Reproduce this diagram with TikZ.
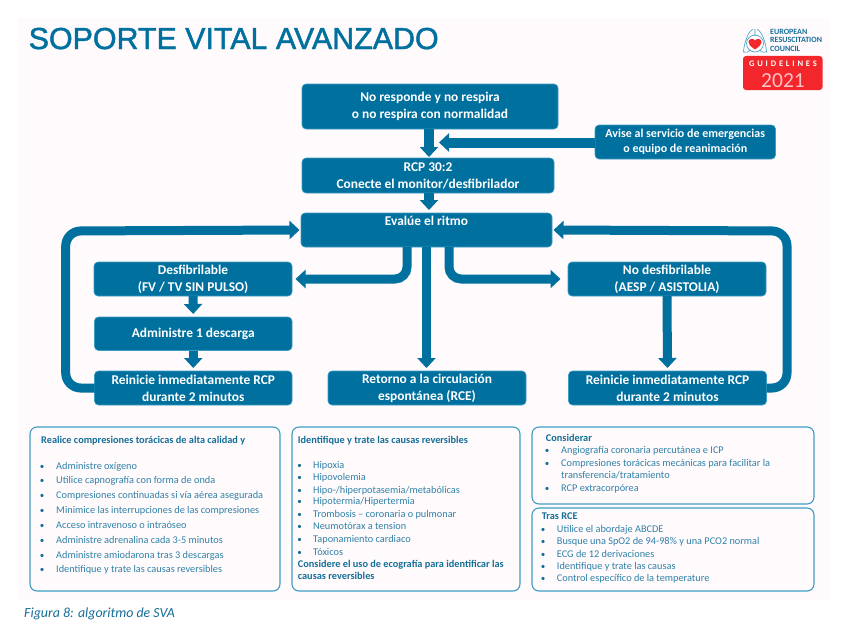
\documentclass[tikz,border=0pt]{standalone}
\usepackage{fontspec}
\usetikzlibrary{arrows.meta}
\setmainfont{Carlito}
\newfontfamily\titlefont[FakeBold=1.5]{Liberation Sans}
\definecolor{ercblue}{HTML}{00709F}
\definecolor{ercedge}{HTML}{3C9DC2}
\definecolor{erctext}{HTML}{2F81A8}
\definecolor{erchead}{HTML}{156E98}
\definecolor{panel}{HTML}{FFFAFC}
\definecolor{ercred}{HTML}{F3262B}
\tikzset{
  x=1pt,y=-1pt,
  flowbox/.style={draw=ercedge,line width=.6pt,fill=ercblue,rounded corners=4pt,text=white,
    font=\fontsize{13.4}{17}\selectfont\bfseries,align=center,inner sep=0pt,outer sep=0pt,anchor=north west},
  smallflow/.style={font=\fontsize{12}{15}\selectfont\bfseries},
  flow/.style={draw=ercblue,line width=9pt,-{Triangle[width=18pt,length=10pt]},shorten >=1.5pt},
  infobox/.style={draw=ercedge,line width=1.1pt,rounded corners=7pt,fill=none},
  ln/.style={anchor=base west,inner sep=0pt,text=erctext,font=\fontsize{10.3}{12}\selectfont},
  hd/.style={anchor=base west,inner sep=0pt,text=erchead,font=\fontsize{10.3}{12}\selectfont\bfseries},
  bul/.style={anchor=base,inner sep=0pt,text=erchead,font=\fontsize{9}{12}\selectfont},
  logotx/.style={anchor=base west,inner sep=0pt,text=erchead,font=\fontsize{8}{8}\selectfont\bfseries},
}
\newcommand\flowbox[6]{\node[flowbox,minimum width=#4pt,minimum height=#5pt] (#1) at (#2,#3) {#6};}
\begin{document}
\begin{tikzpicture}
\useasboundingbox (0,0) rectangle (848,634);
\fill[white] (0,0) rectangle (848,634);
\fill[panel] (18,18) rectangle (829,600);
\node[anchor=base west,inner sep=0pt,text=ercblue,font=\fontsize{30.4}{32}\titlefont] (title) at (28.5,49) {SOPORTE VITAL AVANZADO};

% logo
\fill[ercred,rounded corners=3pt] (743,56) rectangle (822.5,90);
\node[anchor=base,inner sep=0pt,text=white,font=\fontsize{8.5}{9}\selectfont\bfseries] (gl) at (783,66.5) {G\,\,U\,\,I\,\,D\,\,E\,\,L\,\,I\,\,N\,\,E\,\,S};
\node[anchor=base,inner sep=0pt,text=white!72!ercred,font=\fontsize{21.5}{22}\selectfont] (yr) at (783,87) {2021};
\node[logotx] (l1) at (770,34.5) {EUROPEAN};
\node[logotx] (l2) at (770,43) {RESUSCITATION};
\node[logotx] (l3) at (770,51.5) {COUNCIL};
\draw[ercedge,line width=.6pt] (755,29) -- (755,36)
  (753,29.5) .. controls (749,30) and (744,42) .. (743.5,52) .. controls (746,53) and (749,52) .. (751,50)
  (757,29.5) .. controls (761,30) and (766,42) .. (766.5,52) .. controls (764,53) and (761,52) .. (759,50)
  (755,43.5) circle[radius=8.5];
\fill[ercred] (755,49.5) .. controls (750,46) and (748.5,44) .. (748.5,42) .. controls (748.5,38.5) and (753.5,38) .. (755,40.5) .. controls (756.5,38) and (761.5,38.5) .. (761.5,42) .. controls (761.5,44) and (760,46) .. (755,49.5);

% flow boxes
\flowbox{resp}{302}{84}{256}{45}{No responde y no respira\\o no respira con normalidad}
\node[flowbox,smallflow,minimum width=180.5pt,minimum height=34pt] (avise) at (595,125) {Avise al servicio de emergencias\\o equipo de reanimación};
\flowbox{rcp}{302}{158}{252}{35}{RCP 30:2\\Conecte el monitor/desfibrilador}
\flowbox{eval}{301}{213}{251}{34}{Evalúe el ritmo\\[-3pt]\strut}
\flowbox{desf}{94}{262}{198}{34}{Desfibrilable\\(FV / TV SIN PULSO)}
\flowbox{desc}{94.5}{317}{197.5}{33.5}{Administre 1 descarga}
\flowbox{reinl}{94.5}{371}{197.5}{34}{Reinicie inmediatamente RCP\\durante 2 minutos}
\flowbox{rce}{328}{371}{198}{34}{Retorno a la circulación\\espontánea (RCE)}
\flowbox{nodesf}{568}{262}{198}{34}{No desfibrilable\\(AESP / ASISTOLIA)}
\flowbox{reinr}{568.5}{371}{198}{34}{Reinicie inmediatamente RCP\\durante 2 minutos}

% connectors
\coordinate (lc) at (65.7,231);
\coordinate (rc) at (787,231);
\coordinate (rcpx) at (429,142.5);
\draw[flow,rounded corners=15pt] (reinl.west) -| (lc) -- (eval.west);
\draw[flow,rounded corners=15pt] (reinr.east) -| (rc) -- (eval.east);
\draw[flow,rounded corners=12pt,shorten >=3.5pt] ([xshift=-19.5pt]eval.south) |- (desf.east);
\draw[flow,rounded corners=12pt,shorten >=7.5pt] ([xshift=22.5pt]eval.south) |- (nodesf.west);
\draw[flow,shorten >=3pt] (eval.south) -- (rce.north -| eval.south);
\draw[flow,shorten >=3pt] (desf.south) -- (desc.north);
\draw[flow,shorten >=3pt] (desc.south) -- (reinl.north);
\draw[flow,shorten >=3pt] (nodesf.south) -- (reinr.north);
\draw[flow,line width=10pt,shorten >=1pt] (resp.south -| rcpx) -- (rcp.north -| rcpx);
\draw[flow,line width=10pt,shorten >=3pt] (rcp.south -| rcpx) -- (eval.north -| rcpx);
\draw[flow,line width=10pt,shorten >=10pt] (avise.west |- rcpx) -- (rcpx);

% info boxes
\draw[infobox] (30,427) rectangle (280,591);
\draw[infobox] (292,427) rectangle (520,591);
\draw[infobox] (532,427) rectangle (814,504);
\draw[infobox] (532,508) rectangle (814,591);

\node[hd] (ah) at (41,443.5) {Realice compresiones torácicas de alta calidad y};
\foreach \yy/\txt [count=\i] in {466/{Administre oxígeno},480.7/{Utilice capnografía con forma de onda},495.7/{Compresiones continuadas si vía aérea asegurada},510.3/{Minimice las interrupciones de las compresiones},525/{Acceso intravenoso o intraóseo},540/{Administre adrenalina cada 3-5 minutos},555/{Administre amiodarona tras 3 descargas},569.7/{Identifique y trate las causas reversibles}}{
  \node[bul] (ab\i) at (42,\yy+3) {•};
  \node[ln] (at\i) at (56,\yy+3) {\txt};
}

\node[hd] (bh) at (297.7,443.5) {Identifique y trate las causas reversibles};
\foreach \yy/\txt [count=\i] in {465/{Hipoxia},477.3/{Hipovolemia},490/{Hipo-/hiperpotasemia/metabólicas},501.7/{Hipotermia/Hipertermia},514.3/{Trombosis – coronaria o pulmonar},526.7/{Neumotórax a tension},539/{Taponamiento cardiaco},552/{Tóxicos}}{
  \node[bul] (bb\i) at (299.7,\yy+3) {•};
  \node[ln] (bt\i) at (313,\yy+3) {\txt};
}
\node[hd] (bf1) at (297.7,567) {Considere el uso de ecografía para identificar las};
\node[hd] (bf2) at (297.7,579.5) {causas reversibles};

\node[hd] (ch) at (545.7,441.5) {Considerar};
\foreach \yy/\txt [count=\i] in {450/{Angiografía coronaria percutánea e ICP},463/{Compresiones torácicas mecánicas para facilitar la},488/{RCP extracorpórea}}{
  \node[bul] (cb\i) at (547,\yy+3) {•};
  \node[ln] (ct\i) at (561,\yy+3) {\txt};
}
\node[ln] (ct4) at (561,478.5) {transferencia/tratamiento};

\node[hd] (dh) at (541.7,519.5) {Tras RCE};
\foreach \yy/\txt [count=\i] in {529/{Utilice el abordaje ABCDE},541.3/{Busque una SpO2 de 94-98\% y una PCO2 normal},554/{ECG de 12 derivaciones},566.7/{Identifique y trate las causas},578/{Control específico de la temperature}}{
  \node[bul] (db\i) at (543,\yy+3) {•};
  \node[ln] (dt\i) at (556.7,\yy+3) {\txt};
}

\node[anchor=base west,inner sep=0pt,text=erchead,font=\fontsize{13.9}{15}\selectfont\itshape] (cap) at (24,617) {Figura 8: algoritmo de SVA};
\end{tikzpicture}
\end{document}
